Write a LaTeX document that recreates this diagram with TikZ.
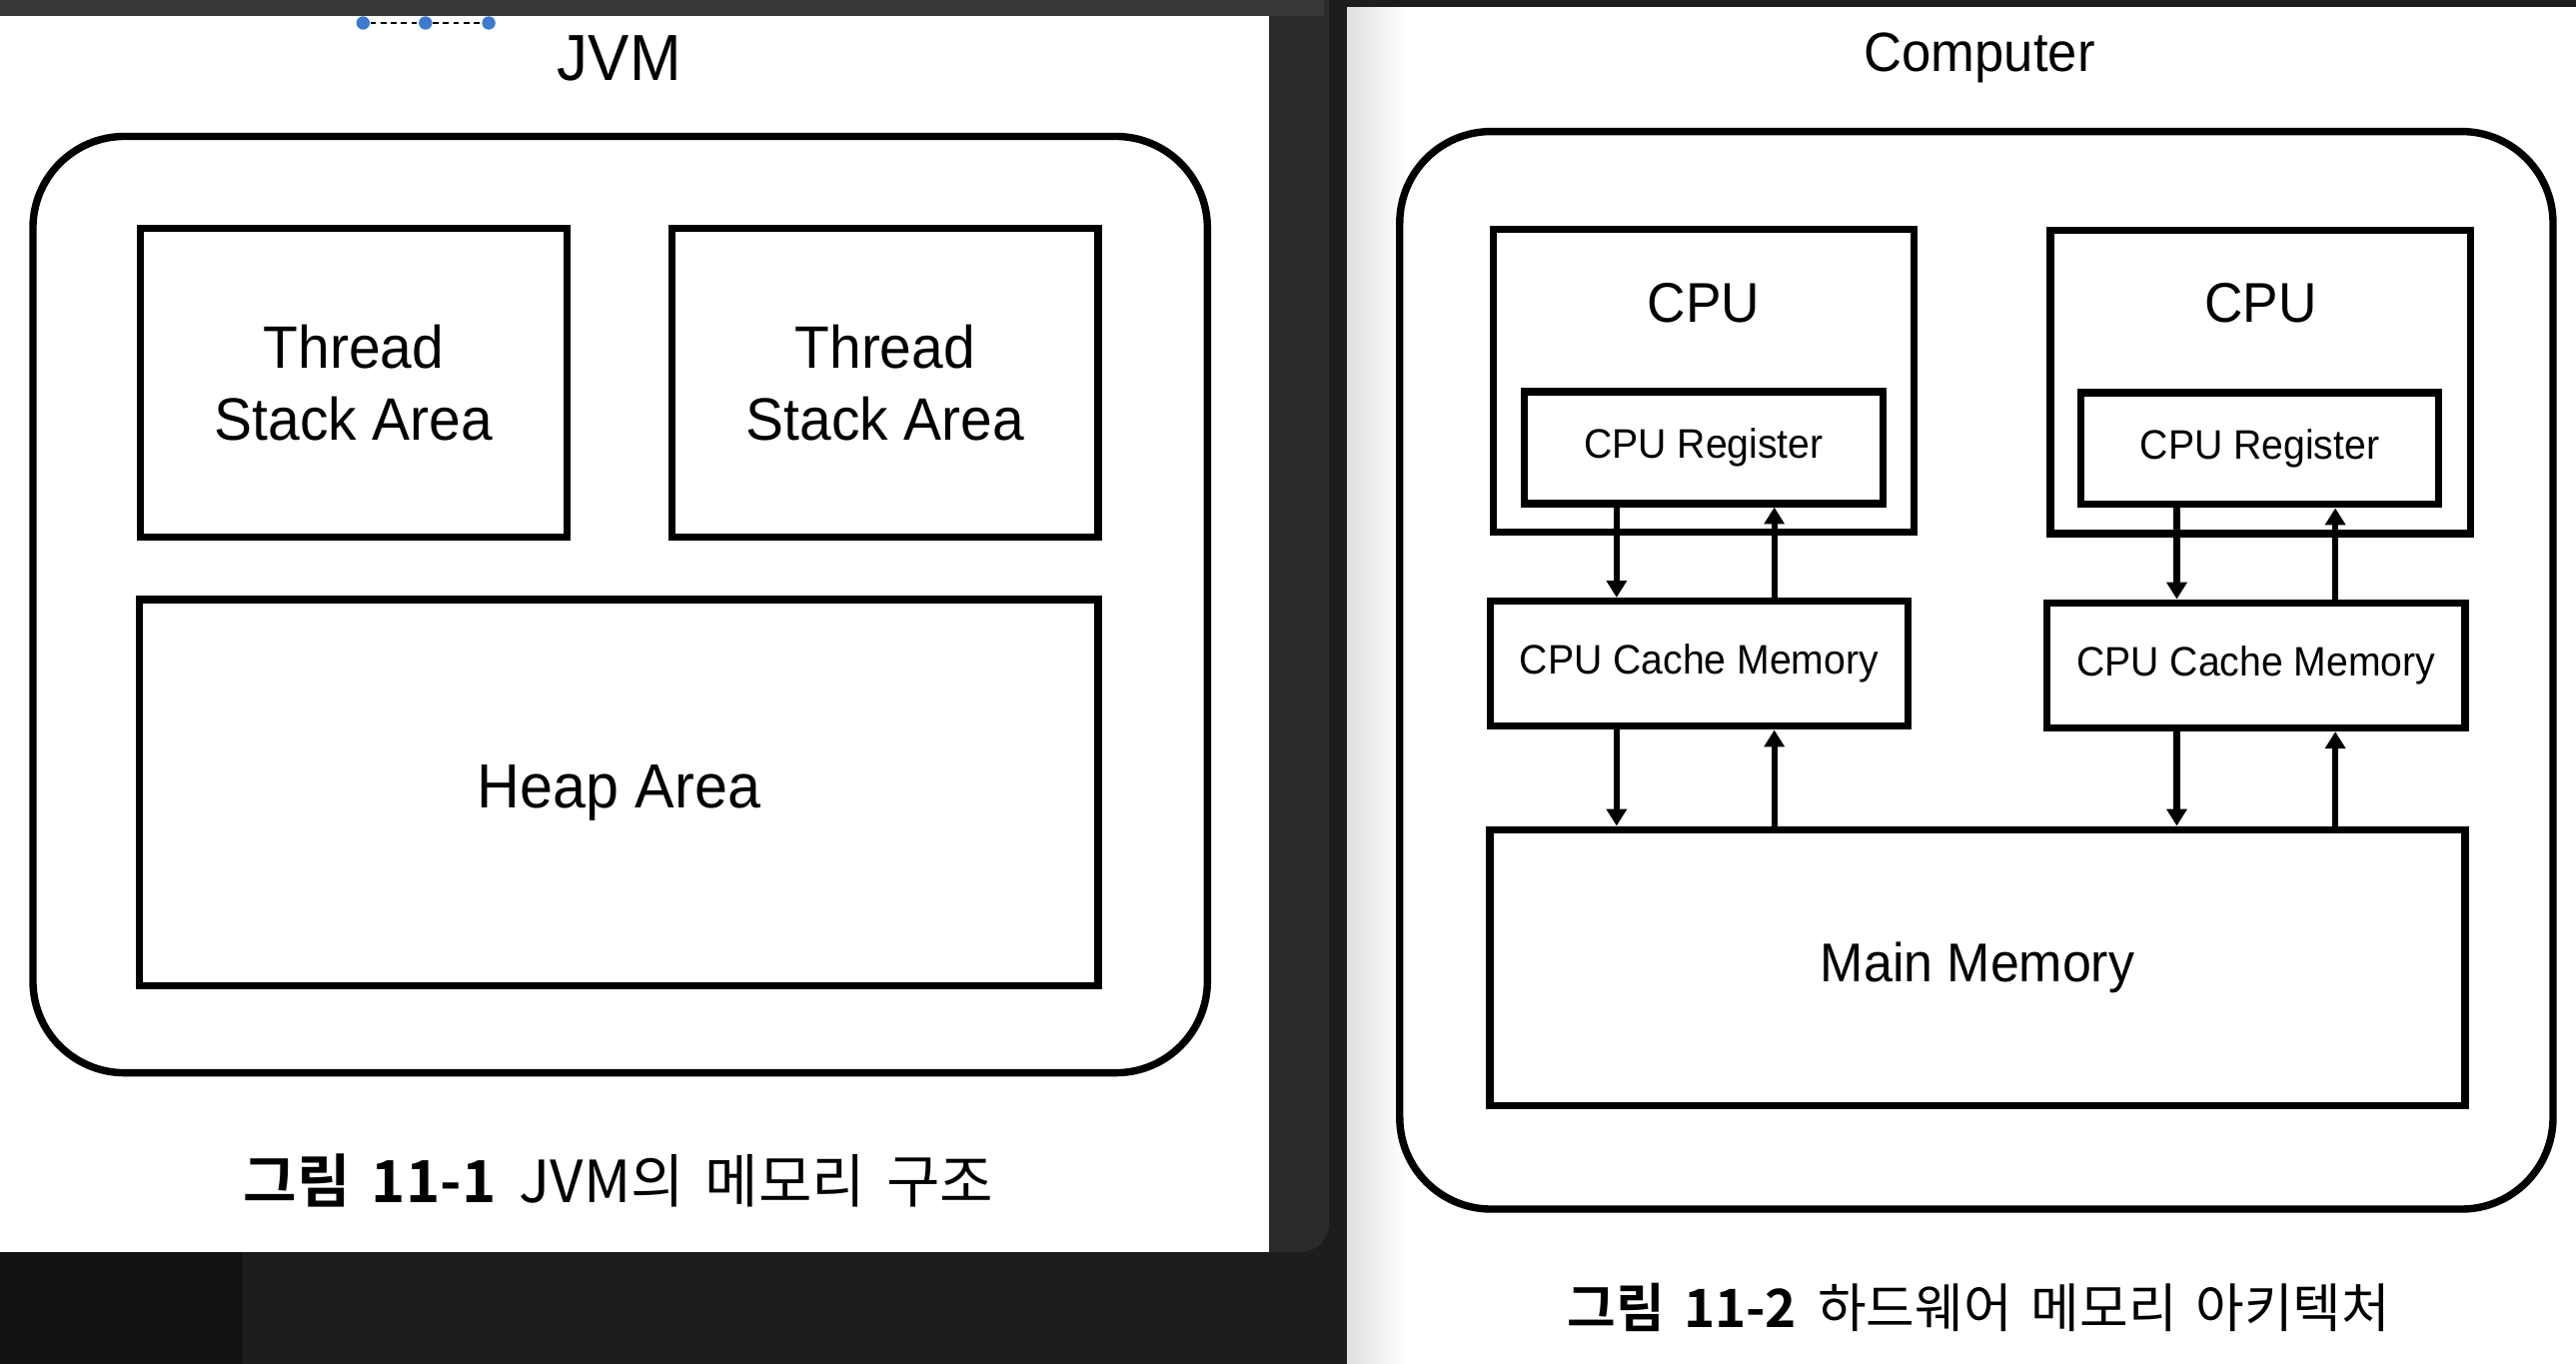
\documentclass[tikz,border=0pt]{standalone}
\usepackage{fontspec}
\setmainfont{Liberation Sans}[FakeStretch=0.95]
\newfontfamily\kr{Noto Sans CJK KR}[WordSpace=1.6,BoldFont={Noto Sans CJK KR Bold}]
\usetikzlibrary{arrows.meta}
\usetikzlibrary{positioning}

\definecolor{deskbg}{HTML}{1D1D1D}
\definecolor{deskdark}{HTML}{121212}
\definecolor{winedge}{HTML}{2B2B2B}
\definecolor{wintop}{HTML}{383838}
\definecolor{handleblue}{HTML}{3B7BD0}

\tikzset{
	box/.style={draw,line width=2.1pt,inner sep=0pt},
	outerbox/.style={box,rounded corners=26pt},
	title/.style={font=\fontsize{18.5}{22}\selectfont},
	areatext/.style={align=center,font=\fontsize{17}{20.4}\selectfont},
	small/.style={font=\fontsize{11.7}{14}\selectfont},
	caption/.style={font=\kr\fontsize{#1}{18}\selectfont},
	handle/.style={circle,fill=handleblue,minimum size=3.8pt,inner sep=0pt},
	arr/.style={-{Triangle[length=4.8pt,width=5.6pt]},line width=1.8pt}
}

\begin{document}
\begin{tikzpicture}[x=0.4665pt,y=-0.4665pt]
	\useasboundingbox (0,0) rectangle (1568,830);

	% screen background
	\fill[deskbg] (0,0) rectangle (1568,830);
	\fill[deskdark] (0,762) rectangle (148,830);
	\fill[winedge,rounded corners=8pt] (-20,-20) rectangle (809,762);
	\fill[wintop] (0,0) rectangle (806,9.7);
	\fill[white] (0,9.7) rectangle (772.5,762);
	\fill[white] (820,4.3) rectangle (1568,830);
	\shade[left color=black!12,right color=white] (820,4.3) rectangle (856,830);

	% selection handles
	\node[handle] (h1) at (221,14) {};
	\node[handle] (h2) at (259,14) {};
	\node[handle] (h3) at (297.5,14) {};
	\draw[line width=0.6pt,dash pattern=on 1.6pt off 1.3pt] (h1) -- (h2) -- (h3);

	% JVM
	\node[title] (jvm) at (377,35.5) {JVM};
	\node[outerbox,minimum width=333.5pt,minimum height=265.9pt] (jvmbox) at (377.5,368) {};
	\node[box,areatext,minimum width=121.1pt,minimum height=87.7pt] (stack1) at (215.25,233) {Thread\\Stack Area};
	\node[box,areatext,minimum width=121.1pt,minimum height=87.7pt] (stack2) at (538.75,233) {Thread\\Stack Area};
	\node[box,font=\fontsize{17.7}{21}\selectfont,minimum width=272.2pt,minimum height=109.6pt] (heap) at (376.75,482.5) {Heap Area};
	\node[caption=16.5] (cap1) at (376.5,718.5) {{\bfseries 그림 11-1}\hspace{0.4em}JVM의 메모리 구조};

	% Computer
	\node[font=\fontsize{15.7}{19}\selectfont] (comp) at (1205,35) {Computer};
	\node[outerbox,minimum width=327.5pt,minimum height=306pt] (compbox) at (1203,408) {};

	\node[box,minimum width=119.4pt,minimum height=86.1pt] (cpu1) at (1037,231.75) {};
	\node[font=\fontsize{15.9}{19}\selectfont] (cpu1lbl) at (1037,184.5) {CPU};
	\node[box,small,minimum width=101.7pt,minimum height=31.7pt] (reg1) at (1037,272.5) {CPU Register};
	\node[box,small,minimum width=118.7pt,minimum height=35.5pt] (cache1) at (1034.25,404) {CPU Cache Memory};

	\node[box,minimum width=119.4pt,minimum height=86.1pt] (cpu2) at (1376,232.5) {};
	\node[font=\fontsize{15.9}{19}\selectfont] (cpu2lbl) at (1376,184.5) {CPU};
	\node[box,small,minimum width=101.7pt,minimum height=31.7pt] (reg2) at (1375.5,273) {CPU Register};
	\node[box,small,minimum width=118.7pt,minimum height=35.5pt] (cache2) at (1373.25,405) {CPU Cache Memory};

	\node[box,font=\fontsize{15.5}{19}\selectfont,minimum width=276.9pt,minimum height=78.4pt] (main) at (1203.75,589) {Main Memory};

	\coordinate (dn1) at (984,0);
	\coordinate (up1) at (1080,0);
	\coordinate (dn2) at (1325,0);
	\coordinate (up2) at (1421.5,0);

	\draw[arr] (reg1.south -| dn1) -- (cache1.north -| dn1);
	\draw[arr] (cache1.north -| up1) -- (reg1.south -| up1);
	\draw[arr] (cache1.south -| dn1) -- (main.north -| dn1);
	\draw[arr] (main.north -| up1) -- (cache1.south -| up1);
	\draw[arr] (reg2.south -| dn2) -- (cache2.north -| dn2);
	\draw[arr] (cache2.north -| up2) -- (reg2.south -| up2);
	\draw[arr] (cache2.south -| dn2) -- (main.north -| dn2);
	\draw[arr] (main.north -| up2) -- (cache2.south -| up2);

	\node[caption=15] (cap2) at (1204.5,796) {{\bfseries 그림 11-2}\hspace{0.4em}하드웨어 메모리 아키텍처};
\end{tikzpicture}
\end{document}
